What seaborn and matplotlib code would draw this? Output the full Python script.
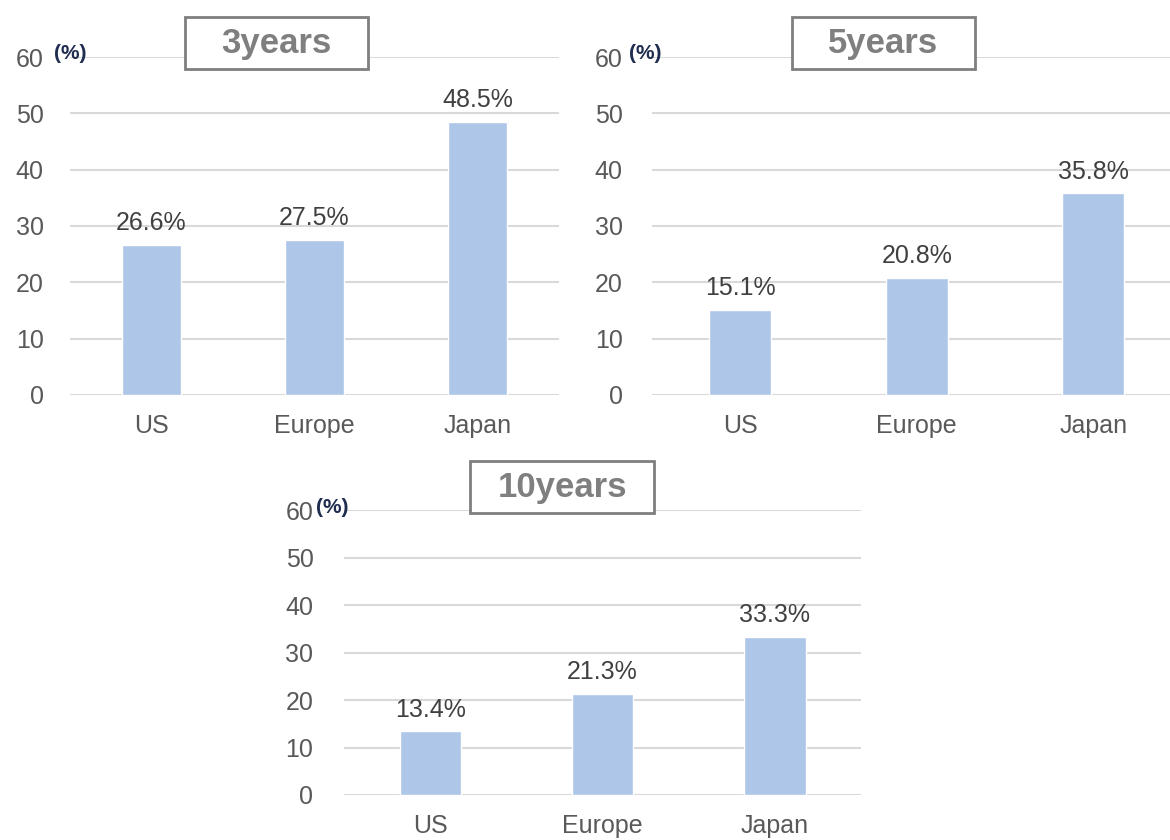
import matplotlib
matplotlib.use("Agg")
import matplotlib.pyplot as plt
from matplotlib.patches import Rectangle
import seaborn as sns
import pandas as pd

# ----------------------------------------------------------
# Data
# ----------------------------------------------------------
regions = ["US", "Europe", "Japan"]
values_3y = [26.6, 27.5, 48.5]
values_5y = [15.1, 20.8, 35.8]
values_10y = [13.4, 21.3, 33.3]
panel_titles = ["3years", "5years", "10years"]
y_ticks = [0, 10, 20, 30, 40, 50, 60]

BAR_COLOR = "#aec6e8"
GRID_COLOR = "#d9d9d9"
TICK_COLOR = "#595959"

sns.set_style("white")
plt.rcParams["font.family"] = ["Liberation Sans", "DejaVu Sans"]

W, H = 1170, 840
fig = plt.figure(figsize=(W / 100, H / 100), dpi=100)

# axes rectangles: left, bottom, width, height (figure fraction)
rects = [
    [0.0598, 0.530, 0.418, 0.402],
    [0.557, 0.530, 0.453, 0.402],
    [0.294, 0.0536, 0.442, 0.339],
]
# title boxes in pixels: x0, x1, y0 (top), y1 (bottom)
title_boxes = [(185, 368, 17, 69), (792, 975, 17, 69), (470, 654, 461, 513)]
pct_offsets = [0.0, -0.013, -0.023]
y_pads = [19, 21, 22]
bar_widths = [0.36, 0.35, 0.355]


def draw_panel(ax, values, bar_width, y_pad):
    df = pd.DataFrame({"region": regions, "value": values})
    sns.barplot(data=df, x="region", y="value", color=BAR_COLOR,
                width=bar_width, saturation=1, ax=ax)
    ax.set_ylim(0, 60)
    ax.set_xlim(-0.5, 2.5)
    ax.set_yticks(y_ticks)
    ax.yaxis.grid(True, color=GRID_COLOR, linewidth=1.5)
    ax.set_axisbelow(True)
    for s in ax.spines.values():
        s.set_visible(False)
    ax.set_xlabel("")
    ax.set_ylabel("")
    ax.tick_params(axis="y", length=0, pad=y_pad, labelsize=18,
                   labelcolor=TICK_COLOR)
    ax.tick_params(axis="x", length=0, pad=14, labelsize=18,
                   labelcolor=TICK_COLOR)
    ax.bar_label(ax.containers[0], labels=[f"{v}%" for v in values],
                 padding=7, fontsize=18, color="#404040")


for i, vals in enumerate([values_3y, values_5y, values_10y]):
    ax = fig.add_axes(rects[i])
    draw_panel(ax, vals, bar_widths[i], y_pads[i])
    ax.text(pct_offsets[i], 60.6, "(%)", transform=ax.get_yaxis_transform(),
            ha="center", va="center", fontsize=15, fontweight="bold",
            color="#1f2d50")

    x0, x1, y0, y1 = title_boxes[i]
    fig.patches.append(Rectangle((x0 / W, 1 - y1 / H), (x1 - x0) / W,
                                 (y1 - y0) / H, transform=fig.transFigure,
                                 facecolor="white", edgecolor="#7f7f7f",
                                 linewidth=2, zorder=5))
    fig.text((x0 + x1) / 2 / W, 1 - (y0 + y1) / 2 / H, panel_titles[i],
             ha="center", va="center", fontsize=25, fontweight="bold",
             color="#7f7f7f", zorder=6)

fig.savefig("out.png", dpi=100)
